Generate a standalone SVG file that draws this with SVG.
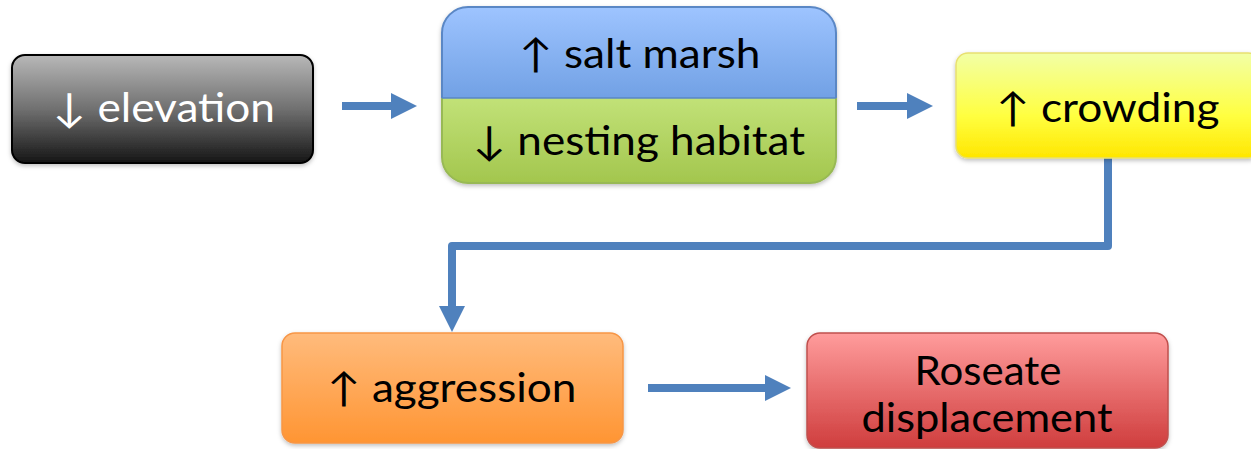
<svg xmlns="http://www.w3.org/2000/svg" width="1251" height="449" viewBox="0 0 1251 449">
<style>
.t{font-family:Lato,"Open Sans","Liberation Sans",sans-serif;font-size:40px;text-anchor:middle;fill:#000}
.w{fill:#fff}
.conn{fill:none;stroke:#4f81bd;stroke-width:8}
.ah{fill:#4f81bd}
</style>
<defs>
<linearGradient id="gGray" x1="0" y1="0" x2="0" y2="1"><stop offset="0" stop-color="#b8b8b8"/><stop offset="0.5" stop-color="#707070"/><stop offset="1" stop-color="#151515"/></linearGradient>
<linearGradient id="gBlue" x1="0" y1="0" x2="0" y2="1"><stop offset="0" stop-color="#9ec4ff"/><stop offset="1" stop-color="#4780cc"/></linearGradient>
<linearGradient id="gGreen" x1="0" y1="0" x2="0" y2="1"><stop offset="0" stop-color="#e2ffa4"/><stop offset="1" stop-color="#a3c64e"/></linearGradient>
<linearGradient id="gYellow" x1="0" y1="0" x2="0" y2="1"><stop offset="0" stop-color="#f2ffa6"/><stop offset="0.6" stop-color="#ffff40"/><stop offset="1" stop-color="#ffe600"/></linearGradient>
<linearGradient id="gOrange" x1="0" y1="0" x2="0" y2="1"><stop offset="0" stop-color="#ffbb7c"/><stop offset="1" stop-color="#ff9533"/></linearGradient>
<linearGradient id="gRed" x1="0" y1="0" x2="0" y2="1"><stop offset="0" stop-color="#ff9c9c"/><stop offset="1" stop-color="#cf3d3d"/></linearGradient>
<filter id="sh" x="-5%" y="-10%" width="110%" height="125%"><feDropShadow dx="0" dy="2" stdDeviation="2" flood-color="#000" flood-opacity="0.25"/></filter>
<clipPath id="cTop"><rect x="440" y="0" width="400" height="98"/></clipPath>
<clipPath id="cBot"><rect x="440" y="98" width="400" height="90"/></clipPath>
</defs>

<g id="connectors">
<line class="conn" x1="342" y1="106" x2="393" y2="106"/>
<polygon class="ah" points="391,93 417,106 391,119"/>
<line class="conn" x1="857" y1="106" x2="909" y2="106"/>
<polygon class="ah" points="907,93 933,106 907,119"/>
<polyline class="conn" points="1108,158 1108,246 452,246 452,308" stroke-linejoin="round"/>
<polygon class="ah" points="439,306 465,306 452,332"/>
<line class="conn" x1="648" y1="388" x2="767" y2="388"/>
<polygon class="ah" points="765,375 791,388 765,401"/>
</g>

<g id="elevation">
<rect x="12" y="55" width="301" height="108" rx="13" fill="url(#gGray)" stroke="#000" stroke-width="2" filter="url(#sh)"/>
<text class="t w" x="164" y="122" textLength="222" lengthAdjust="spacingAndGlyphs">↓ elevation</text>
</g>

<g id="salt-marsh">
<g filter="url(#sh)">
<rect x="442" y="7" width="394" height="176" rx="26" fill="url(#gBlue)" stroke="#5a87c5" stroke-width="2" clip-path="url(#cTop)"/>
<rect x="442" y="7" width="394" height="176" rx="26" fill="url(#gGreen)" stroke="#98b954" stroke-width="2" clip-path="url(#cBot)"/>
</g>
<line x1="442" y1="98" x2="836" y2="98" stroke="#5a87c5" stroke-width="1.5"/>
<text class="t" x="640" y="68" textLength="241" lengthAdjust="spacingAndGlyphs">↑ salt marsh</text>
<text class="t" x="639" y="155" textLength="332" lengthAdjust="spacingAndGlyphs">↓ nesting habitat</text>
</g>

<g id="crowding">
<rect x="956" y="53" width="304" height="105" rx="12" fill="url(#gYellow)" stroke="#e8e070" stroke-width="1.5" filter="url(#sh)"/>
<text class="t" x="1108" y="122" textLength="223" lengthAdjust="spacingAndGlyphs">↑ crowding</text>
</g>

<g id="aggression">
<rect x="282" y="333" width="341" height="110" rx="13" fill="url(#gOrange)" stroke="#f79646" stroke-width="1.5" filter="url(#sh)"/>
<text class="t" x="452" y="402" textLength="249" lengthAdjust="spacingAndGlyphs">↑ aggression</text>
</g>

<g id="roseate">
<rect x="807" y="333" width="361" height="115" rx="13" fill="url(#gRed)" stroke="#c0504d" stroke-width="1.5" filter="url(#sh)"/>
<text class="t" x="988" y="385" textLength="147" lengthAdjust="spacingAndGlyphs">Roseate</text>
<text class="t" x="987" y="432" textLength="251" lengthAdjust="spacingAndGlyphs">displacement</text>
</g>
</svg>
